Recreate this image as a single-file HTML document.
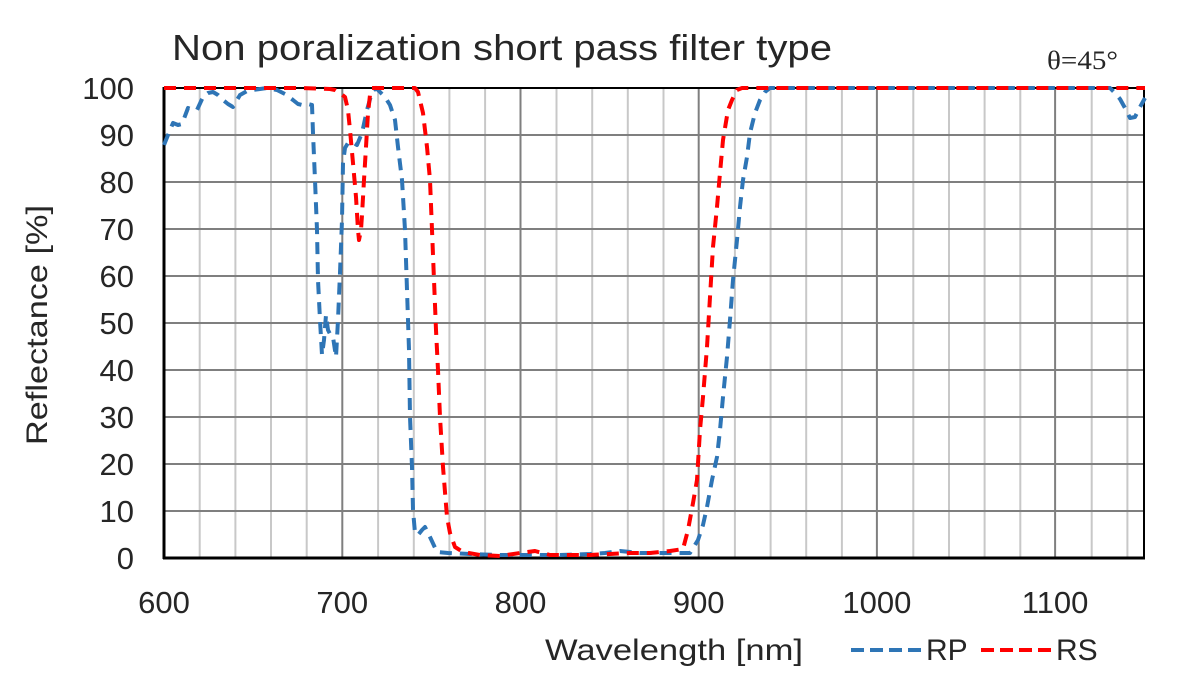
<!DOCTYPE html>
<html>
<head>
<meta charset="utf-8">
<style>
html,body{margin:0;padding:0;background:#fff;}
svg{display:block;}
text{font-family:"Liberation Sans",sans-serif;fill:#262626;}
</style>
</head>
<body>
<svg width="1200" height="677" viewBox="0 0 1200 677" xmlns="http://www.w3.org/2000/svg">
<rect width="1200" height="677" fill="#fff"/>
<!-- title -->
<text x="172" y="60" font-size="36" textLength="660" lengthAdjust="spacingAndGlyphs">Non poralization short pass filter type</text>
<text x="1047" y="69" font-size="26" textLength="71" lengthAdjust="spacingAndGlyphs" style="font-family:'Liberation Serif',serif">θ=45°</text>

<!-- minor vertical grid (every 20nm) -->
<g stroke="#c8c8c8" stroke-width="2">
<line x1="199.7" y1="88" x2="199.7" y2="558"/>
<line x1="235.4" y1="88" x2="235.4" y2="558"/>
<line x1="271.0" y1="88" x2="271.0" y2="558"/>
<line x1="306.7" y1="88" x2="306.7" y2="558"/>
<line x1="378.1" y1="88" x2="378.1" y2="558"/>
<line x1="413.8" y1="88" x2="413.8" y2="558"/>
<line x1="449.4" y1="88" x2="449.4" y2="558"/>
<line x1="485.1" y1="88" x2="485.1" y2="558"/>
<line x1="556.5" y1="88" x2="556.5" y2="558"/>
<line x1="592.2" y1="88" x2="592.2" y2="558"/>
<line x1="627.8" y1="88" x2="627.8" y2="558"/>
<line x1="663.5" y1="88" x2="663.5" y2="558"/>
<line x1="734.9" y1="88" x2="734.9" y2="558"/>
<line x1="770.6" y1="88" x2="770.6" y2="558"/>
<line x1="806.2" y1="88" x2="806.2" y2="558"/>
<line x1="841.9" y1="88" x2="841.9" y2="558"/>
<line x1="913.3" y1="88" x2="913.3" y2="558"/>
<line x1="949.0" y1="88" x2="949.0" y2="558"/>
<line x1="984.6" y1="88" x2="984.6" y2="558"/>
<line x1="1020.3" y1="88" x2="1020.3" y2="558"/>
<line x1="1091.7" y1="88" x2="1091.7" y2="558"/>
<line x1="1127.4" y1="88" x2="1127.4" y2="558"/>
</g>
<!-- major vertical grid -->
<g stroke="#7f7f7f" stroke-width="2">
<line x1="342.3" y1="88" x2="342.3" y2="558"/>
<line x1="520.5" y1="88" x2="520.5" y2="558"/>
<line x1="698.7" y1="88" x2="698.7" y2="558"/>
<line x1="876.9" y1="88" x2="876.9" y2="558"/>
<line x1="1055.1" y1="88" x2="1055.1" y2="558"/>
</g>
<!-- horizontal grid -->
<g stroke="#7f7f7f" stroke-width="2">
<line x1="164" y1="135" x2="1144" y2="135"/>
<line x1="164" y1="182" x2="1144" y2="182"/>
<line x1="164" y1="229" x2="1144" y2="229"/>
<line x1="164" y1="276" x2="1144" y2="276"/>
<line x1="164" y1="323" x2="1144" y2="323"/>
<line x1="164" y1="370" x2="1144" y2="370"/>
<line x1="164" y1="417" x2="1144" y2="417"/>
<line x1="164" y1="464" x2="1144" y2="464"/>
<line x1="164" y1="511" x2="1144" y2="511"/>
</g>
<!-- border -->
<line x1="164" y1="88" x2="1144" y2="88" stroke="#000" stroke-width="2"/>
<line x1="1144" y1="88" x2="1144" y2="558" stroke="#000" stroke-width="2"/>
<line x1="164" y1="87" x2="164" y2="559" stroke="#000" stroke-width="3"/>
<line x1="163" y1="558" x2="1145" y2="558" stroke="#000" stroke-width="3"/>

<!-- RP blue -->
<polyline fill="none" stroke="#2e75b6" stroke-width="4" stroke-dasharray="12 8" stroke-linejoin="round"
points="164,145 168,135 173,123 178,125 182,124 188,108 193,110 197,110 203,97 208,93 213,92 218,95 223,100 228,104 233,107 237,100 240,95 247,91 253,90 260,89 267,88 272,89 277,90 285,94 293,100 298,104 302,105 308,104 312,105 313,133 315,180 317,230 318,280 320,320 322,355 324,340 326,315 328,330 331,336 333,337 336,357 338,320 340,273 342,220 343,163 345,148 348,143 352,142 357,145 362,133 367,110 372,92 376,88 380,92 385,97 390,105 395,120 398,147 402,180 405,230 407,290 409,350 410,417 412,467 413,510 415,533 418,535 422,530 425,527 430,537 437,552 448,553 470,554 500,555 530,555 560,555 590,554 605,553 620,551 640,553 660,553 680,553 690,553 698,540 703,525 707,507 712,480 717,457 720,430 723,397 727,357 730,320 733,280 737,240 740,207 743,180 747,157 750,133 755,113 760,100 765,92 770,88 1110,88 1115,93 1120,99 1125,108 1130,118 1135,117 1140,107 1145,98"/>
<!-- RS red -->
<polyline fill="none" stroke="#ff0000" stroke-width="4" stroke-dasharray="12 8" stroke-linejoin="round"
points="164,88 300,88 330,89 335,90 340,93 345,97 348,110 350,130 353,163 356,197 358,230 359,240 361,230 362,215 364,180 366,147 368,113 370,95 372,88 415,88 418,92 423,113 427,147 430,180 432,230 434,280 436,330 438,370 440,417 443,467 447,517 450,533 455,547 463,552 480,555 500,556 520,553 535,551 550,555 570,555 590,555 610,554 630,553 650,553 670,551 683,549 688,530 693,503 697,480 700,430 703,397 707,347 710,297 713,247 717,207 720,173 723,140 728,110 732,100 737,90 742,88 1145,88"/>

<!-- y tick labels -->
<g font-size="31" text-anchor="end">
<text x="134" y="99">100</text>
<text x="134" y="146">90</text>
<text x="134" y="193">80</text>
<text x="134" y="240">70</text>
<text x="134" y="287">60</text>
<text x="134" y="334">50</text>
<text x="134" y="381">40</text>
<text x="134" y="428">30</text>
<text x="134" y="475">20</text>
<text x="134" y="522">10</text>
<text x="134" y="569">0</text>
</g>
<!-- x tick labels -->
<g font-size="31" text-anchor="middle">
<text x="164" y="613">600</text>
<text x="342.3" y="613">700</text>
<text x="520.5" y="613">800</text>
<text x="698.7" y="613">900</text>
<text x="876.9" y="613">1000</text>
<text x="1055.1" y="613">1100</text>
</g>
<!-- axis titles -->
<text x="545" y="660" font-size="30" textLength="258" lengthAdjust="spacingAndGlyphs">Wavelength [nm]</text>
<text transform="translate(47,445) rotate(-90)" font-size="30" textLength="240" lengthAdjust="spacingAndGlyphs">Reflectance [%]</text>

<!-- legend -->
<line x1="851" y1="650" x2="921" y2="650" stroke="#2e75b6" stroke-width="4" stroke-dasharray="13 6"/>
<text x="926" y="660" font-size="30">RP</text>
<line x1="981" y1="650" x2="1051" y2="650" stroke="#ff0000" stroke-width="4" stroke-dasharray="13 6"/>
<text x="1056" y="660" font-size="30">RS</text>
</svg>
</body>
</html>
